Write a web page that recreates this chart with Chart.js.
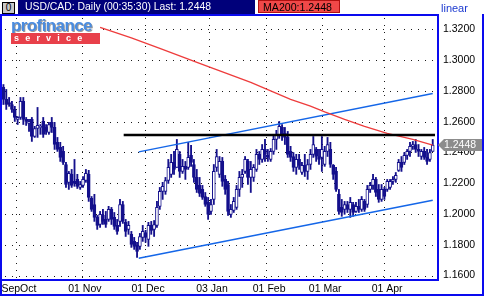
<!DOCTYPE html>
<html><head><meta charset="utf-8">
<script src="https://cdn.jsdelivr.net/npm/chart.js@4.4.1/dist/chart.umd.min.js"></script>
<style>
html,body{margin:0;padding:0;background:#fff;}
#wrap{position:relative;width:485px;height:296px;overflow:hidden;font-family:'Liberation Sans',Arial,sans-serif;}
canvas{position:absolute;left:0;top:0;}
.abs{position:absolute;white-space:nowrap;}
#btn{left:2px;top:2px;width:11px;height:10px;background:#c8c8c8;border:1px solid #000;font-size:10px;line-height:10px;text-align:center;color:#000;}
#bar{left:18px;top:0;width:237px;height:14px;background:#00007a;color:#fff;font-size:10.4px;line-height:14px;padding-left:7px;box-sizing:border-box;}
#ma{left:258px;top:0;width:82px;height:13px;background:#f04848;border:1px solid #b01010;box-sizing:border-box;color:#000;font-size:10.6px;line-height:12px;padding-left:4px;}
#lin{left:441px;top:1px;color:#1c3ad0;font-size:11px;line-height:14px;}
#logo{left:11px;top:20px;width:89px;height:24px;background:#fff;}
#pf{left:0;top:-3px;font-weight:bold;font-size:17px;line-height:17px;letter-spacing:-0.6px;color:#4a8ce0;text-shadow:1px 1px 0 #9a9a9a;}
#sv{left:0;top:13px;width:89px;height:11px;background:#e8404a;color:#fff;font-weight:bold;font-size:9px;line-height:11px;letter-spacing:6.2px;padding-left:3px;box-sizing:border-box;}
</style></head><body>
<div id="wrap">
<canvas id="c" width="485" height="296"></canvas>
<div id="btn" class="abs">0</div>
<div id="bar" class="abs">USD/CAD: Daily (00:35:30) Last: 1.2448</div>
<div id="ma" class="abs">MA200:1.2448</div>
<div id="lin" class="abs">linear</div>
<div id="logo" class="abs"><div id="pf" class="abs">profinance</div><div id="sv" class="abs">service</div></div>
</div>
<script>
// ---- data (USD/CAD daily OHLC) ----
const openP = [1.2823,1.2745,1.2725,1.2712,1.2680,1.2615,1.2628,1.2732,1.2615,1.2589,
1.2615,1.2504,1.2556,1.2563,1.2602,1.2563,1.2530,1.2596,1.2563,1.2466,
1.2433,1.2407,1.2322,1.2206,1.2258,1.2212,1.2225,1.2173,1.2186,1.2218,
1.2258,1.2102,1.2062,1.1978,1.1932,1.1991,1.1965,1.1965,1.2030,1.1978,
1.1926,1.1952,1.2062,1.1946,1.1900,1.1868,1.1822,1.1796,1.1790,1.1848,
1.1880,1.1835,1.1926,1.1900,1.1926,1.2050,1.2147,1.2147,1.2218,1.2258,
1.2336,1.2303,1.2388,1.2277,1.2310,1.2303,1.2381,1.2322,1.2238,1.2186,
1.2160,1.2114,1.2076,1.2017,1.2095,1.2303,1.2258,1.2342,1.2225,1.2192,
1.1998,1.2024,1.2043,1.2160,1.2238,1.2277,1.2342,1.2238,1.2238,1.2290,
1.2388,1.2355,1.2420,1.2381,1.2355,1.2407,1.2485,1.2511,1.2563,1.2524,
1.2498,1.2407,1.2374,1.2303,1.2355,1.2270,1.2316,1.2277,1.2322,1.2388,
1.2420,1.2374,1.2368,1.2322,1.2407,1.2420,1.2316,1.2277,1.2128,1.2043,
1.2030,1.2062,1.2030,1.2062,1.2017,1.2050,1.2030,1.2082,1.2062,1.2160,
1.2186,1.2225,1.2160,1.2095,1.2160,1.2160,1.2173,1.2212,1.2225,1.2284,
1.2336,1.2336,1.2381,1.2407,1.2440,1.2452,1.2420,1.2374,1.2407,1.2368,
1.2355,1.2407];
const highP = [1.2842,1.2810,1.2758,1.2732,1.2700,1.2634,1.2758,1.2758,1.2628,1.2615,
1.2628,1.2570,1.2693,1.2582,1.2628,1.2582,1.2596,1.2628,1.2596,1.2498,
1.2466,1.2440,1.2336,1.2277,1.2290,1.2355,1.2258,1.2212,1.2244,1.2290,
1.2284,1.2114,1.2128,1.1991,1.2017,1.2030,1.2017,1.2050,1.2043,1.2010,
1.1965,1.2095,1.2082,1.1965,1.1952,1.1887,1.1848,1.1816,1.1874,1.1926,
1.1894,1.1946,1.1952,1.1958,1.2082,1.2173,1.2206,1.2238,1.2355,1.2388,
1.2407,1.2485,1.2407,1.2355,1.2342,1.2466,1.2446,1.2355,1.2290,1.2238,
1.2186,1.2140,1.2108,1.2095,1.2322,1.2420,1.2374,1.2368,1.2251,1.2212,
1.2062,1.2108,1.2186,1.2277,1.2290,1.2374,1.2355,1.2342,1.2322,1.2420,
1.2407,1.2452,1.2485,1.2420,1.2426,1.2511,1.2544,1.2602,1.2582,1.2563,
1.2537,1.2440,1.2400,1.2388,1.2388,1.2336,1.2388,1.2355,1.2420,1.2504,
1.2433,1.2420,1.2504,1.2440,1.2498,1.2466,1.2322,1.2303,1.2160,1.2095,
1.2082,1.2082,1.2108,1.2076,1.2076,1.2095,1.2114,1.2095,1.2186,1.2206,
1.2258,1.2238,1.2192,1.2192,1.2173,1.2225,1.2225,1.2244,1.2270,1.2355,
1.2374,1.2400,1.2420,1.2466,1.2472,1.2485,1.2452,1.2420,1.2433,1.2420,
1.2420,1.2485];
const lowP = [1.2712,1.2680,1.2700,1.2660,1.2602,1.2582,1.2615,1.2582,1.2576,1.2537,
1.2472,1.2498,1.2498,1.2518,1.2498,1.2518,1.2518,1.2530,1.2420,1.2407,
1.2342,1.2322,1.2173,1.2160,1.2173,1.2180,1.2166,1.2160,1.2173,1.2206,
1.2082,1.2017,1.1952,1.1900,1.1913,1.1932,1.1913,1.1952,1.1932,1.1900,
1.1868,1.1920,1.1939,1.1854,1.1868,1.1783,1.1770,1.1718,1.1770,1.1822,
1.1816,1.1790,1.1868,1.1854,1.1913,1.2030,1.2095,1.2128,1.2199,1.2238,
1.2258,1.2303,1.2238,1.2264,1.2225,1.2290,1.2310,1.2206,1.2140,1.2114,
1.2095,1.2050,1.1965,1.1998,1.2062,1.2277,1.2238,1.2180,1.2128,1.1991,
1.1978,1.2010,1.2030,1.2114,1.2173,1.2264,1.2192,1.2140,1.2212,1.2277,
1.2322,1.2336,1.2342,1.2342,1.2342,1.2388,1.2420,1.2492,1.2478,1.2452,
1.2368,1.2342,1.2277,1.2258,1.2290,1.2258,1.2244,1.2225,1.2290,1.2368,
1.2342,1.2322,1.2277,1.2310,1.2374,1.2303,1.2225,1.2147,1.1998,1.1985,
1.1998,1.2010,1.1978,1.1985,1.2010,1.2010,1.2017,1.2017,1.2043,1.2140,
1.2160,1.2114,1.2076,1.2082,1.2095,1.2147,1.2160,1.2192,1.2206,1.2277,
1.2277,1.2322,1.2355,1.2374,1.2420,1.2400,1.2374,1.2355,1.2355,1.2322,
1.2342,1.2407];
const closeP = [1.2745,1.2712,1.2712,1.2680,1.2628,1.2628,1.2732,1.2615,1.2602,1.2602,
1.2504,1.2556,1.2576,1.2570,1.2518,1.2537,1.2582,1.2563,1.2452,1.2420,
1.2368,1.2336,1.2192,1.2264,1.2186,1.2199,1.2180,1.2192,1.2225,1.2264,
1.2108,1.2030,1.1978,1.1926,1.1998,1.1952,1.1932,1.2030,1.1965,1.1920,
1.1887,1.2062,1.1952,1.1887,1.1926,1.1802,1.1790,1.1757,1.1854,1.1887,
1.1848,1.1926,1.1894,1.1932,1.2043,1.2147,1.2180,1.2218,1.2303,1.2336,
1.2290,1.2420,1.2277,1.2310,1.2290,1.2368,1.2336,1.2238,1.2160,1.2134,
1.2108,1.2062,1.1998,1.2062,1.2277,1.2374,1.2342,1.2212,1.2160,1.2017,
1.2030,1.2082,1.2160,1.2238,1.2258,1.2355,1.2238,1.2290,1.2303,1.2388,
1.2355,1.2420,1.2388,1.2368,1.2407,1.2485,1.2518,1.2570,1.2511,1.2498,
1.2388,1.2368,1.2303,1.2355,1.2316,1.2316,1.2277,1.2322,1.2388,1.2452,
1.2374,1.2355,1.2420,1.2407,1.2452,1.2322,1.2258,1.2160,1.2017,1.2010,
1.2062,1.2030,1.2076,1.2010,1.2050,1.2030,1.2095,1.2030,1.2160,1.2186,
1.2225,1.2140,1.2095,1.2160,1.2114,1.2212,1.2212,1.2225,1.2251,1.2336,
1.2303,1.2381,1.2407,1.2440,1.2452,1.2420,1.2407,1.2407,1.2368,1.2342,
1.2400,1.2448];

// 200-day moving average (sampled along the red line)
const maIdx = [34, 45, 55, 69, 87, 101, 108, 113, 120, 127, 135, 144, 151];
const maVal = [1.3213, 1.3145, 1.3077, 1.2979, 1.2856, 1.2745, 1.2702, 1.2664, 1.2615, 1.2570, 1.2524, 1.2485, 1.2448];

// drawn trend lines (channel) and horizontal resistance
const upperIdx = [47.6, 151];  const upperVal = [1.2404, 1.2784];
const lowerIdx = [47.6, 151];  const lowerVal = [1.1712, 1.2089];
const resIdx   = [42.3, 151.8]; const resVal  = [1.2514, 1.2514];

// axis ticks
const xTickPos    = [4.4, 27.6, 49.8, 72.3, 92.4, 112.1, 133.9];
const xTickLabels = ['SepOct', '01 Nov', '01 Dec', '03 Jan', '01 Feb', '01 Mar', '01 Apr'];
const yTicks      = [1.16, 1.18, 1.20, 1.22, 1.24, 1.26, 1.28, 1.30, 1.32];

// ---- styles ----
const NAVY = '#14108c';
const FRAME = '#0a0aee';
const FONT = "'Liberation Sans', Arial, sans-serif";

const wickData = highP.map((h, i) => ({x: i, y: [lowP[i], h]}));
const bodyData = openP.map((o, i) => ({x: i, y: [o, closeP[i]]}));
const bodyFill = openP.map((o, i) => closeP[i] >= o ? '#ffffff' : NAVY);
const pts = (xs, ys) => xs.map((x, i) => ({x, y: ys[i]}));

// dotted grid at the tick positions of the library's scales
const gridPlugin = {
  id: 'dotgrid',
  beforeDatasetsDraw(chart) {
    const {ctx, chartArea: a, scales: {x, y}} = chart;
    ctx.save();
    ctx.strokeStyle = '#1a1a1a';
    ctx.lineWidth = 1;
    ctx.setLineDash([1, 6]);
    ctx.beginPath();
    x.ticks.forEach(t => {
      const px = Math.round(x.getPixelForValue(t.value)) + 0.5;
      ctx.moveTo(px, a.top + 3); ctx.lineTo(px, a.bottom);
    });
    y.ticks.forEach(t => {
      const py = Math.round(y.getPixelForValue(t.value)) + 0.5;
      ctx.moveTo(a.left + 3, py); ctx.lineTo(a.right, py);
    });
    ctx.stroke();
    ctx.restore();
  }
};

const framePlugin = {
  id: 'frame',
  afterDraw(chart) {
    const {ctx, chartArea: a, scales} = chart;
    const W = chart.width, H = chart.height;
    ctx.save();
    ctx.fillStyle = FRAME;
    ctx.fillRect(0, a.top - 1, a.right + 2, 2);        // top of plot
    ctx.fillRect(0, a.top - 1, 2, H - a.top + 1);      // left
    ctx.fillRect(a.right, a.top - 1, 2, a.bottom - a.top + 2); // right axis line
    ctx.fillRect(0, a.bottom - 1, a.right + 2, 2);     // bottom axis line
    ctx.fillRect(W - 3, a.top - 1, 2, H - a.top + 1);  // outer right
    ctx.fillRect(0, H - 2, W - 1, 2);                  // outer bottom
    // last price tag
    const last = closeP[closeP.length - 1];
    const yv = Math.round(scales.y.getPixelForValue(last));
    ctx.fillStyle = '#8c8c8c';
    ctx.beginPath();
    ctx.moveTo(a.right + 1, yv);
    ctx.lineTo(a.right + 7, yv - 6);
    ctx.lineTo(W - 3, yv - 6);
    ctx.lineTo(W - 3, yv + 6);
    ctx.lineTo(a.right + 7, yv + 6);
    ctx.closePath();
    ctx.fill();
    ctx.fillStyle = '#ffffff';
    ctx.font = '10.5px ' + FONT;
    ctx.textBaseline = 'middle';
    ctx.textAlign = 'left';
    ctx.fillText(last.toFixed(4), a.right + 7, yv + 0.5);
    ctx.restore();
  }
};

new Chart(document.getElementById('c'), {
  type: 'bar',
  data: {
    datasets: [
      {type: 'line', data: pts(resIdx, resVal), borderColor: '#000', borderWidth: 2.6, pointRadius: 0, order: 0},
      {type: 'line', data: pts(maIdx, maVal), borderColor: '#ee3c3c', borderWidth: 1.3, pointRadius: 0, order: 1},
      {type: 'line', data: pts(upperIdx, upperVal), borderColor: '#1466e8', borderWidth: 1.5, pointRadius: 0, order: 1},
      {type: 'line', data: pts(lowerIdx, lowerVal), borderColor: '#1466e8', borderWidth: 1.5, pointRadius: 0, order: 1},
      {type: 'bar', data: bodyData, backgroundColor: bodyFill, borderColor: NAVY, borderWidth: 1,
       borderSkipped: false, barThickness: 3, minBarLength: 1, grouped: false, order: 4},
      {type: 'bar', data: wickData, backgroundColor: NAVY, borderWidth: 0, barThickness: 1.2, grouped: false, order: 5}
    ]
  },
  options: {
    responsive: false,
    animation: false,
    events: [],
    layout: {padding: {left: 2, top: 15, right: 0, bottom: 0}},
    plugins: {legend: {display: false}, tooltip: {enabled: false}},
    scales: {
      x: {
        type: 'linear', min: -0.5, max: 152.5, offset: false,
        afterBuildTicks: s => { s.ticks = xTickPos.map(v => ({value: v})); },
        afterFit: s => { s.height = 16; s.paddingLeft = 0; s.paddingRight = 0; },
        ticks: {callback: (v, i) => xTickLabels[i], autoSkip: false, maxRotation: 0, padding: 3,
                labelOffset: 3, color: '#000', font: {family: FONT, size: 10.5}},
        grid: {display: false, drawTicks: false},
        border: {display: false}
      },
      y: {
        position: 'right', min: 1.1571, max: 1.3294,
        afterBuildTicks: s => { s.ticks = yTicks.map(v => ({value: v})); },
        afterFit: s => { s.width = 48; },
        ticks: {callback: v => v.toFixed(4), padding: 6, color: '#000', font: {family: FONT, size: 10.5}},
        grid: {display: false, drawTicks: false},
        border: {display: false}
      }
    }
  },
  plugins: [gridPlugin, framePlugin]
});
</script>
</body></html>
